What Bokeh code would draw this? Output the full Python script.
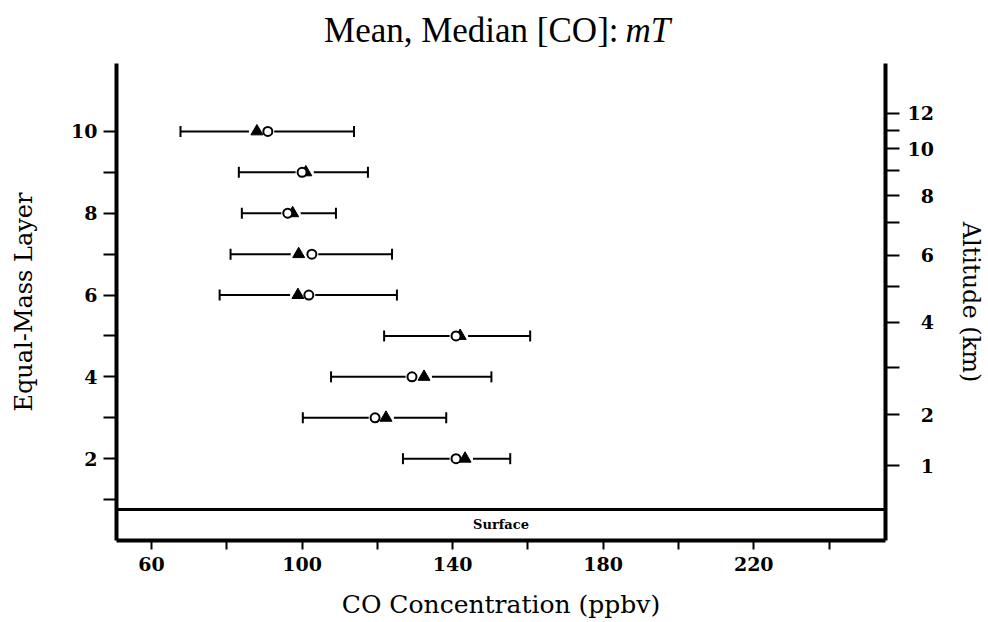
import numpy as np
from bokeh.plotting import figure
from bokeh.layouts import column
from bokeh.models import LinearAxis, FixedTicker, Span, Label, ColumnDataSource
from bokeh.embed import file_html
from bokeh.resources import INLINE

# Equal-mass layers (rows of the chart)
layers = [10, 9, 8, 7, 6, 5, 4, 3, 2]
# Range bars, mean (open circle) and median (filled triangle) CO, ppbv
co_low = [67.7, 83.2, 84.0, 81.0, 78.1, 121.8, 107.7, 100.2, 126.8]
co_high = [113.8, 117.5, 109.0, 123.9, 125.2, 160.6, 150.3, 138.3, 155.3]
co_mean = [90.9, 100.0, 96.2, 102.6, 101.8, 140.9, 129.2, 119.4, 140.9]
co_median = [88.0, 101.0, 97.5, 99.1, 98.9, 142.0, 132.4, 122.3, 143.3]

# Left axis: layer index
layer_ticks = [1, 2, 3, 4, 5, 6, 7, 8, 9, 10]
layer_labels = ["", "2", "", "4", "", "6", "", "8", "", "10"]

# Bottom axis: CO concentration
co_ticks = [60, 80, 100, 120, 140, 160, 180, 200, 220, 240]
co_labels = ["60", "", "100", "", "140", "", "180", "", "220", ""]

# Right axis: altitude (km) and where each altitude falls on the layer scale
alt_km = [1, 2, 3, 4, 5, 6, 7, 8, 9, 10, 11, 12]
alt_layer = [1.83, 3.08, 4.23, 5.33, 6.21, 6.97, 7.77, 8.43, 9.04, 9.58, 10.02, 10.44]
alt_labeled = [1, 2, 4, 6, 8, 10, 12]

# Top of the surface band on the layer scale
surface_top = 0.76

x_lo, x_hi = 50.7, 255.0
y_lo, y_hi = 0.0, 11.66

W, TITLE_H, PLOT_H = 988, 63, 559

src = ColumnDataSource(dict(layer=layers, low=co_low, high=co_high,
                            mean=co_mean, median=co_median))

# ---- title strip (upright text followed by italic "mT") ----
tf = figure(width=W, height=TITLE_H, x_range=(0, W), y_range=(0, TITLE_H),
            output_backend="svg", toolbar_location=None,
            x_axis_type=None, y_axis_type=None, min_border=0)
tf.outline_line_color = None
tf.background_fill_color = "white"
tf.border_fill_color = "white"
tf.add_layout(Label(x=645, y=33, text="Mean, Median [CO]:", text_align="right",
                    text_baseline="alphabetic", text_font="Liberation Serif",
                    text_font_size="35px", text_color="black"))
tf.add_layout(Label(x=654, y=33, text="mT", text_align="left",
                    text_baseline="alphabetic", text_font="Liberation Serif",
                    text_font_style="italic",
                    text_font_size="35px", text_color="black"))

# ---- main chart ----
p = figure(width=W, height=PLOT_H, x_range=(x_lo, x_hi), y_range=(y_lo, y_hi),
           output_backend="svg", toolbar_location=None,
           min_border_left=116, min_border_right=103,
           min_border_top=0, min_border_bottom=82)
p.xgrid.visible = False
p.ygrid.visible = False
p.outline_line_color = None
p.background_fill_color = "white"
p.border_fill_color = "white"

TICK_FONT = "DejaVu Serif"


def style_axis(ax, tick_out, standoff):
    ax.axis_line_width = 4
    ax.axis_line_color = "black"
    ax.major_tick_in = 0
    ax.major_tick_out = tick_out
    ax.major_tick_line_width = 2
    ax.minor_tick_out = 0
    ax.minor_tick_in = 0
    ax.major_label_text_font = TICK_FONT
    ax.major_label_text_font_style = "bold"
    ax.major_label_text_font_size = "19px"
    ax.major_label_text_color = "black"
    ax.major_label_standoff = standoff
    ax.axis_label_text_font = TICK_FONT
    ax.axis_label_text_font_style = "normal"
    ax.axis_label_text_color = "black"


# left axis
yax = p.yaxis[0]
yax.ticker = FixedTicker(ticks=layer_ticks)
yax.major_label_overrides = {t: s for t, s in zip(layer_ticks, layer_labels)}
style_axis(yax, 13, 6)
yax.axis_label = "Equal-Mass Layer"
yax.axis_label_text_font_size = "24px"
yax.axis_label_standoff = 30

# bottom axis
xax = p.xaxis[0]
xax.ticker = FixedTicker(ticks=co_ticks)
xax.major_label_overrides = {t: s for t, s in zip(co_ticks, co_labels)}
style_axis(xax, 9, 7)
xax.axis_label = "CO Concentration (ppbv)"
xax.axis_label_text_font_size = "25px"
xax.axis_label_standoff = 16

# right axis: altitude
alt_text = {}
for km, pos in zip(alt_km, alt_layer):
    if km in alt_labeled:
        s = str(km)
        alt_text[pos] = "\u2007" * (2 - len(s)) + s
    else:
        alt_text[pos] = ""
rax = LinearAxis(ticker=FixedTicker(ticks=alt_layer), major_label_overrides=alt_text)
style_axis(rax, 14, 8)
rax.axis_label = "Altitude (km)"
rax.axis_label_text_font_size = "24px"
rax.axis_label_standoff = 20
p.add_layout(rax, "right")

# surface band
p.add_layout(Span(location=surface_top, dimension="width",
                  line_color="black", line_width=3))
p.add_layout(Label(x=(x_lo + x_hi) / 2, y=surface_top / 2, text="Surface",
                   text_align="center", text_baseline="middle",
                   text_font=TICK_FONT, text_font_style="bold",
                   text_font_size="13px", text_color="black"))

# range bars with end caps
p.segment(x0="low", y0="layer", x1="high", y1="layer", source=src,
          line_color="black", line_width=2)
p.scatter(x="median", y="layer", source=src, marker="circle", size=16,
          fill_color="white", line_color=None)
p.scatter(x="mean", y="layer", source=src, marker="circle", size=13,
          fill_color="white", line_color=None)
for col in ("low", "high"):
    p.scatter(x=col, y="layer", source=src, marker="dash", angle=np.pi / 2,
              size=11, line_color="black", line_width=2)

# median (filled triangle) and mean (open circle)
p.scatter(x="median", y="layer", source=src, marker="triangle", size=12,
          fill_color="black", line_color="black", line_width=1)
p.scatter(x="mean", y="layer", source=src, marker="circle", size=9,
          fill_color="white", line_color="black", line_width=2)

layout = column(tf, p, spacing=0)
open("out.html", "w").write(file_html(layout, INLINE))
